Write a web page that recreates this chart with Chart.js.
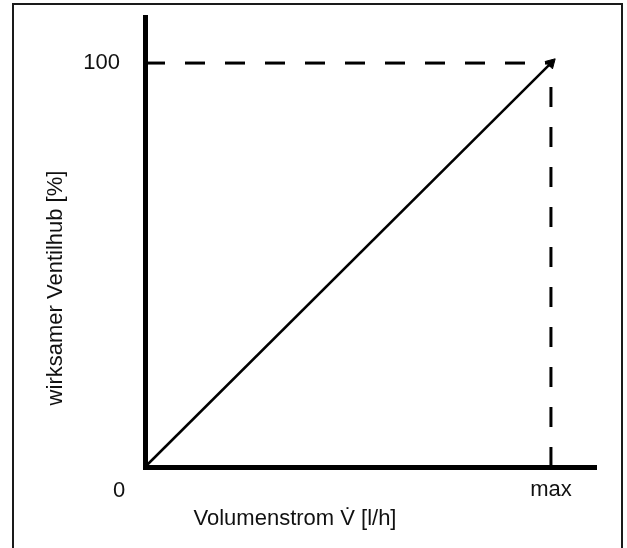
<!DOCTYPE html>
<html>
<head>
<meta charset="utf-8">
<script src="https://cdn.jsdelivr.net/npm/chart.js@4.4.0/dist/chart.umd.min.js"></script>
<style>
  html, body { margin: 0; padding: 0; background: #fff; overflow: hidden; }
  #frame { position: absolute; left: 12px; top: 3px; width: 607px; height: 580px; border: 2px solid #1a1a1a; border-bottom: none; }
  #chart { position: absolute; left: 0; top: 0; }
</style>
</head>
<body>
<div id="frame"></div>
<canvas id="chart" width="627" height="548"></canvas>
<script>
// Ventilkennlinie: wirksamer Hub linear zum Volumenstrom
const flowValues = [0, 1];       // 0 .. max
const liftValues = [0, 100];     // wirksamer Ventilhub [%]
const xTickValues = [1];
const xTickLabels = ['max'];
const yTickValues = [100];
const yTickLabels = ['100'];
const originLabel = '0';
const xTitle = 'Volumenstrom V\u0307 [l/h]';
const yTitle = 'wirksamer Ventilhub [%]';
const xMax = 1.111;
const yMax = 111.4;

const FONT = '"Liberation Sans", Arial, Helvetica, sans-serif';
const TEXT = '#111';

// titles and the origin "0" sit off-centre in the original, so draw them here
const axisTextPlugin = {
  id: 'axisText',
  afterDraw(chart) {
    const { ctx, chartArea, scales } = chart;
    const x0 = scales.x.getPixelForValue(0);
    const y0 = scales.y.getPixelForValue(0);
    ctx.save();
    ctx.fillStyle = TEXT;
    ctx.font = '22px ' + FONT;
    ctx.textAlign = 'center';
    ctx.textBaseline = 'alphabetic';
    ctx.fillText(originLabel, x0 - 26, y0 + 30);
    ctx.fillText(xTitle, chartArea.left + 150, chartArea.bottom + 58);
    ctx.translate(chartArea.left - 83, chartArea.bottom - 179);
    ctx.rotate(-Math.PI / 2);
    ctx.fillText(yTitle, 0, 0);
    ctx.restore();
  }
};

const diag = flowValues.map((x, i) => ({ x: x, y: liftValues[i] }));
const topDash = [
  { x: flowValues[0], y: liftValues[1] },
  { x: flowValues[1], y: liftValues[1] }
];
const sideDash = [
  { x: flowValues[1], y: liftValues[0] },
  { x: flowValues[1], y: liftValues[1] }
];

new Chart(document.getElementById('chart'), {
  type: 'line',
  data: {
    datasets: [
      {
        data: topDash,
        borderColor: '#000',
        borderWidth: 3,
        borderDash: [20, 20],
        pointRadius: 0,
        clip: false
      },
      {
        data: sideDash,
        borderColor: '#000',
        borderWidth: 3,
        borderDash: [20, 20],
        pointRadius: 0,
        clip: false
      },
      {
        data: diag,
        borderColor: '#000',
        borderWidth: 2.5,
        pointStyle: 'triangle',
        pointRotation: 45,
        pointRadius: [0, 6],
        pointBackgroundColor: '#000',
        pointBorderColor: '#000',
        pointBorderWidth: 1,
        clip: false
      }
    ]
  },
  options: {
    responsive: false,
    animation: false,
    events: [],
    layout: { padding: { top: 17, right: 31, left: 0, bottom: 0 } },
    plugins: {
      legend: { display: false },
      tooltip: { enabled: false }
    },
    scales: {
      x: {
        type: 'linear',
        min: 0,
        max: xMax,
        grid: { display: false, drawTicks: false },
        border: { display: true, color: '#000', width: 5 },
        afterBuildTicks: (s) => { s.ticks = xTickValues.map(v => ({ value: v })); },
        afterFit: (s) => { s.height = 81; s.paddingLeft = 0; s.paddingRight = 0; },
        ticks: {
          padding: 10,
          color: TEXT,
          font: { size: 22, family: FONT },
          callback: (v) => xTickLabels[xTickValues.indexOf(v)]
        }
      },
      y: {
        type: 'linear',
        min: 0,
        max: yMax,
        grid: { display: false, drawTicks: false },
        border: { display: true, color: '#000', width: 5 },
        afterBuildTicks: (s) => { s.ticks = yTickValues.map(v => ({ value: v })); },
        afterFit: (s) => { s.width = 145; s.paddingTop = 0; s.paddingBottom = 0; },
        ticks: {
          padding: 25,
          color: TEXT,
          font: { size: 22, family: FONT },
          callback: (v) => yTickLabels[yTickValues.indexOf(v)]
        }
      }
    }
  },
  plugins: [axisTextPlugin]
});
</script>
</body>
</html>
